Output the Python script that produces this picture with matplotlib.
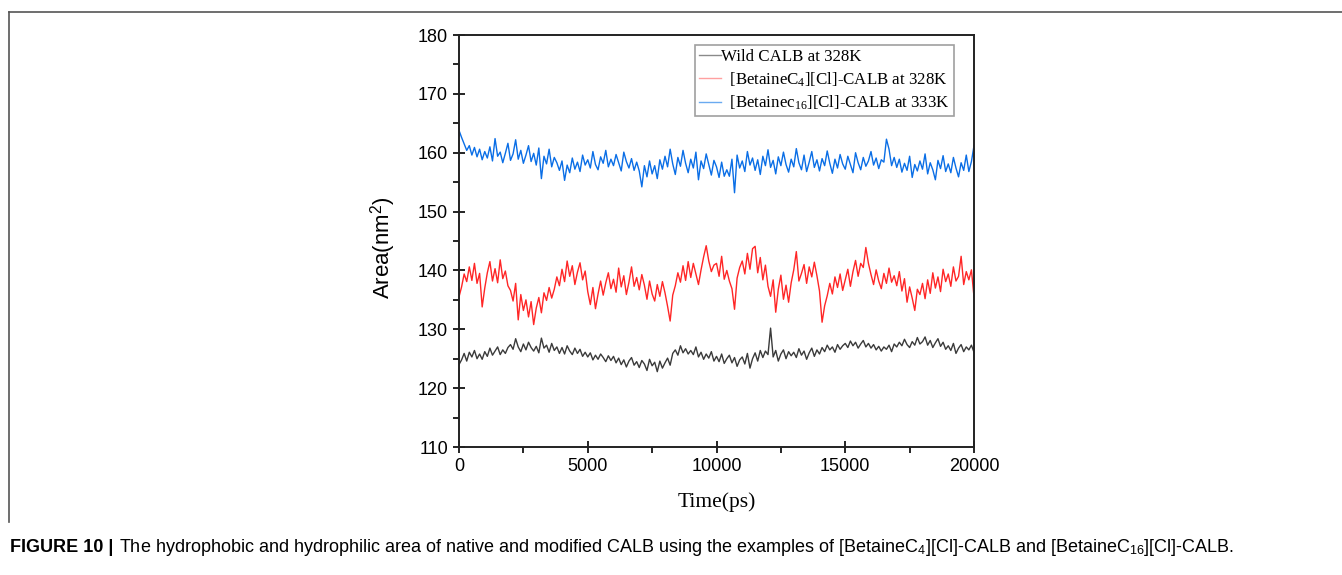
import numpy as np
import matplotlib
matplotlib.use('Agg')
import matplotlib.pyplot as plt
from matplotlib.lines import Line2D
from matplotlib.ticker import MultipleLocator

# ── SETTINGS ──
plt.rcParams['mathtext.fontset'] = 'custom'
plt.rcParams['mathtext.rm'] = 'Liberation Serif'
plt.rcParams['mathtext.it'] = 'Liberation Serif:italic'
plt.rcParams['mathtext.sf'] = 'Liberation Sans'

# ── DATA (one value every 100 ps) ──
time_ps = np.arange(0, 20001, 100)

wild_328 = [
    124.0, 124.8, 125.9, 124.6, 126.1, 125.3, 126.4, 125.0, 125.8, 124.9,
    126.2, 125.4, 126.8, 125.6, 126.3, 127.0, 125.7, 126.5, 125.9, 126.9,
    127.4, 126.6, 128.4, 127.0, 126.2, 127.5, 126.5, 127.8, 126.9, 126.3,
    127.1, 126.0, 128.5, 126.8, 127.3, 126.1, 127.6, 126.4, 127.0, 125.9,
    126.9, 125.8, 127.2, 126.3, 125.7, 126.8, 125.9, 126.6, 125.4, 126.1,
    125.3, 126.0, 124.8, 125.6, 124.9, 125.8, 125.2, 124.5, 125.5, 124.7,
    125.4, 124.3, 125.1, 124.0, 124.8, 123.6, 124.6, 125.2, 123.9, 124.5,
    123.5, 124.7, 124.1, 123.0, 124.9, 123.8, 124.4, 122.8, 124.6, 123.4,
    124.3, 125.1, 123.9, 125.9, 126.5, 125.6, 127.2, 126.0, 126.7, 125.8,
    126.4, 125.7, 127.0, 125.3, 126.1, 124.9, 125.8, 125.1, 126.2, 124.6,
    125.4, 124.5, 125.8, 124.2, 125.0, 125.6, 124.3, 125.2, 123.7, 124.8,
    125.3, 124.1, 125.9, 123.4, 125.0, 126.0, 124.6, 126.4, 125.2, 126.3,
    125.7, 130.2, 125.3, 126.4, 124.6, 125.8, 126.5, 125.0, 126.2, 125.5,
    126.1, 125.2, 126.7, 125.6, 126.3, 124.9, 126.0, 126.8, 125.4, 126.5,
    125.8, 126.9, 126.2, 127.3, 126.5, 127.0, 126.1, 127.4, 126.6, 127.2,
    127.6, 126.9, 128.0, 127.2, 127.8, 126.8, 127.5, 128.1, 127.0, 127.6,
    126.8, 127.4, 126.5, 127.1, 126.3, 127.0, 126.6, 127.3, 126.2, 127.5,
    127.0, 127.8, 127.2, 128.3, 127.4, 126.9, 127.9, 127.3, 128.6, 127.5,
    127.9, 128.7, 127.3, 128.1, 126.9, 127.7, 128.4, 127.1, 127.8, 126.6,
    127.2, 126.4, 127.6, 125.9, 126.8, 127.4, 126.2, 127.0, 126.5, 127.3,
    126.1,
]

c4_328 = [
    135.5, 137.2, 139.4, 138.1, 140.6, 138.3, 141.2, 137.8, 139.5, 133.8,
    137.0, 139.6, 141.5, 138.2, 140.3, 137.9, 141.8, 138.6, 139.9, 137.4,
    136.6, 134.8, 137.8, 131.6, 135.9, 133.2, 135.0, 132.1, 134.7, 130.8,
    133.6, 135.4, 132.8, 136.2, 134.9, 137.1, 135.3, 136.8, 138.9, 137.4,
    140.2, 138.1, 141.6, 139.0, 140.8, 137.6, 139.7, 141.3, 138.4, 139.9,
    136.4, 134.2, 137.1, 133.5, 136.0, 138.2, 135.8, 137.9, 139.6, 136.9,
    138.5, 136.3, 140.4, 137.2, 139.1, 135.9, 138.0, 140.6, 137.3, 138.8,
    136.7, 139.3, 137.5, 135.1, 138.2, 136.0, 134.8, 137.6, 135.6, 138.1,
    136.2, 133.9, 131.4, 135.8, 137.4, 139.6, 138.0, 140.8, 138.3, 141.5,
    138.8, 141.2, 139.4, 137.6, 140.1, 142.3, 144.2, 141.6, 139.8, 140.9,
    141.2, 139.0, 142.4, 138.5, 140.0, 138.2, 136.9, 133.4, 138.7, 140.5,
    141.6, 139.4, 142.9, 140.2, 143.7, 144.1, 139.6, 142.2, 138.4, 140.9,
    137.3, 135.6, 138.4, 132.9, 136.8, 139.2, 135.1, 137.5, 134.6, 137.9,
    140.1, 143.2, 138.2, 139.5, 141.0, 137.8, 140.6, 138.9, 141.4, 139.1,
    136.5, 131.2, 134.0, 135.7, 137.8, 136.0, 138.9, 137.1, 139.4, 136.6,
    138.4, 140.2, 137.3, 139.8, 141.7, 139.0, 141.2, 140.5, 143.9, 141.2,
    139.3, 137.6, 140.1, 138.2, 136.9, 139.5, 137.8, 140.4, 138.0, 139.1,
    137.4, 139.8, 136.5, 138.6, 134.6, 137.2, 135.3, 133.2, 136.8, 135.9,
    137.8, 135.2, 138.4, 136.1, 139.6, 137.0, 138.9, 136.4, 140.2, 138.1,
    139.4, 137.3, 140.6, 138.2, 139.0, 142.4, 137.6, 139.8, 138.4, 140.1,
    135.5,
]

c16_333 = [
    163.8, 162.6, 161.5, 160.4, 161.2, 159.6, 160.9, 159.3, 160.6, 158.8,
    160.2, 159.1, 161.0, 158.6, 162.4, 159.4, 160.1, 158.3, 159.9, 161.6,
    158.7, 159.8, 162.2, 158.9, 160.4, 158.2, 159.6, 161.2, 158.5, 159.9,
    157.9, 160.8, 155.6, 159.4, 158.1, 160.6, 157.6, 159.2, 158.3, 157.0,
    158.6, 155.3, 157.9, 156.6, 159.1, 157.2, 158.4, 156.8, 159.6, 157.9,
    158.8, 157.4, 160.2, 158.0, 157.1, 159.3, 158.2, 160.4, 157.6, 158.9,
    157.8, 159.7, 158.3, 156.9, 160.1, 158.5, 157.4, 159.0, 157.0, 158.4,
    156.9, 154.2, 157.8, 155.9, 158.6, 156.4, 157.8, 155.6, 158.8, 157.2,
    159.4, 157.6, 160.6, 158.1, 156.3, 159.2, 157.7, 160.4, 158.2, 156.6,
    158.9, 157.4, 160.1, 155.4, 158.6, 157.3, 159.8, 158.0, 156.2, 158.7,
    157.6, 155.8, 158.4, 156.0, 157.1, 156.0, 158.9, 153.2, 159.6, 157.4,
    158.6, 156.8, 160.2, 157.9, 159.1, 157.0, 158.8, 156.3, 159.4, 157.8,
    160.5, 157.5, 158.7, 156.4, 159.3, 157.8, 160.1, 158.0, 156.7, 158.9,
    157.6, 160.7, 158.3, 157.1, 159.6, 156.8, 158.4, 160.2, 157.5, 158.8,
    156.9, 159.0, 157.8, 160.3, 158.2, 156.5, 158.9, 157.4, 159.7, 158.1,
    157.2, 159.4, 158.0, 156.6, 160.0, 158.3, 157.1, 159.2, 157.7, 158.6,
    160.2, 157.9, 159.1, 157.3, 158.8, 158.4, 162.3, 160.6, 157.8, 159.2,
    157.5, 158.9, 156.7, 158.2, 157.0, 159.4, 155.8, 158.0, 156.9, 158.6,
    157.2, 159.8, 156.4, 158.3, 157.1, 155.4, 158.7, 157.3, 159.5, 156.8,
    158.1, 156.6, 159.2, 157.4, 155.9, 158.3, 157.0, 159.6, 156.8, 158.5,
    161.2,
]

labels = ['Wild CALB at 328K',
          r'  [BetaineC$_{4}$][Cl]-CALB at 328K',
          r'  [Betainec$_{16}$][Cl]-CALB at 333K']
colors = ['#3a3a3a', '#ff2626', '#0a6ee6']
legend_colors = ['#8a8a8a', '#ffa0a0', '#6aaaf0']

# ── FIGURE ──
fig = plt.figure(figsize=(13.42, 5.75), dpi=100)
ax = fig.add_axes([459 / 1342, 1 - 447 / 575, 515 / 1342, 412 / 575])

for series, col in zip([wild_328, c4_328, c16_333], colors):
    ax.plot(time_ps, series, color=col, lw=1.0)

ax.set_xlim(0, 20000)
ax.set_ylim(110, 180)
ax.xaxis.set_major_locator(MultipleLocator(5000))
ax.xaxis.set_minor_locator(MultipleLocator(2500))
ax.yaxis.set_major_locator(MultipleLocator(10))
ax.yaxis.set_minor_locator(MultipleLocator(5))
ax.tick_params(which='major', direction='inout', length=8, width=1.2,
               labelsize=13, pad=4)
ax.tick_params(which='minor', direction='out', length=4, width=1.2)
for lab in ax.get_xticklabels() + ax.get_yticklabels():
    lab.set_family('Liberation Sans')
for sp in ax.spines.values():
    sp.set_linewidth(1.4)
    sp.set_color('#222222')

ax.set_xlabel('Time(ps)', family='Liberation Serif', fontsize=15.5, labelpad=12)
ax.set_ylabel(r'Area(nm$^{\mathsf{2}}$)', family='Liberation Sans', fontsize=16)
ax.yaxis.set_label_coords(-0.118, 0.483)

handles = [Line2D([], [], color=c, lw=1.0) for c in legend_colors]
leg = ax.legend(handles, labels, loc='upper right',
                bbox_to_anchor=(0.961, 0.976), frameon=True, fancybox=False,
                prop={'family': 'Liberation Serif', 'size': 12.2},
                handlelength=1.3, handletextpad=0.0, borderpad=0.25,
                labelspacing=0.3, borderaxespad=0)
leg.get_frame().set_edgecolor('#888888')
leg.get_frame().set_linewidth(1.2)

# page frame around the figure
fig.add_artist(Line2D([9 / 1342, 1], [1 - 12 / 575, 1 - 12 / 575],
                      transform=fig.transFigure, color='#555555', lw=1.2))
fig.add_artist(Line2D([9 / 1342, 9 / 1342], [1 - 12 / 575, 1 - 522 / 575],
                      transform=fig.transFigure, color='#555555', lw=1.2))

# caption
cap_y = 1 - 548 / 575
head = fig.text(10 / 1342, cap_y, 'FIGURE 10 |', family='Liberation Sans',
                fontsize=13, fontweight='bold', va='center')
fig.canvas.draw()
head_end = head.get_window_extent().x1
fig.text((head_end + 6) / 1342, cap_y,
         r'The hydrophobic and hydrophilic area of native and modified CALB using the '
         r'examples of [BetaineC$_{\mathsf{4}}$][Cl]-CALB and [BetaineC$_{\mathsf{16}}$][Cl]-CALB.',
         family='Liberation Sans', fontsize=13, va='center')

plt.savefig('out.png', dpi=100)
